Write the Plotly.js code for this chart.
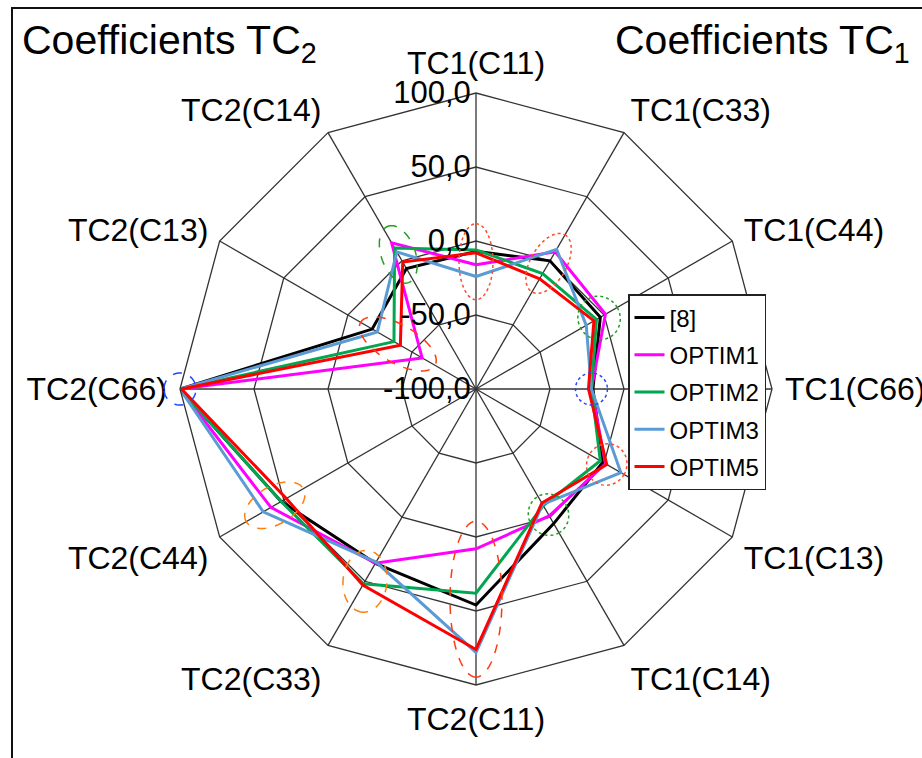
<!DOCTYPE html>
<html>
<head>
<meta charset="utf-8">
<script src="https://cdn.plot.ly/plotly-3.0.1.min.js"></script>
<style>html,body{margin:0;padding:0;background:#fff;}#chart{width:922px;height:758px;}</style>
</head>
<body>
<div id="chart"></div>
<script>
// ---- data ----
const categories = ['TC1(C11)','TC1(C33)','TC1(C44)','TC1(C66)','TC1(C13)','TC1(C14)',
                    'TC2(C11)','TC2(C33)','TC2(C44)','TC2(C66)','TC2(C13)','TC2(C14)'];
const ref8   = [-7,   0,  -3, -21,  -1,   5, 46, 36, 52, 100, -19, -6];
const optim1 = [-16,  7,   1, -22,   1,  -1,  8, 36, 60, 100, -58, 14];
const optim2 = [-6, -10,  -6, -22,  -3,  -9, 38, 52, 52, 100, -36, 10];
const optim3 = [-24,  9, -14, -22,  13, -10, 78, 35, 66, 100, -23,  7];
const optim5 = [-8, -14,  -8, -24,   2, -11, 76, 53, 48,  99, -41, -1];
const seriesNames = ['[8]','OPTIM1','OPTIM2','OPTIM3','OPTIM5'];
const seriesValues = [ref8, optim1, optim2, optim3, optim5];
const seriesColors = ['#000000','#ff00ff','#00a650','#5b9bd5','#ff0000'];
const radialTickVals = [-100, -50, 0, 50, 100];
const radialTickText = ['-100,0','-50,0','0,0','50,0','100,0'];

// ---- layout geometry ----
const W = 922, H = 758;
const CX = 476, CY = 389, R = 296;
const dom = {x:[(CX-R)/W,(CX+R)/W], y:[1-(CY+R)/H, 1-(CY-R)/H]};
const FONT = 'Liberation Sans, Arial, sans-serif';

const close = a => a.concat([a[0]]);
const traces = seriesValues.map((v,i)=>({
  type:'scatterpolar', mode:'lines',
  r: close(v), theta: close(categories),
  name: seriesNames[i], legendgroup: 'g'+i,
  line:{color:seriesColors[i], width:3}
}));

// highlight ellipses: category, radial value, semi-axes (px, along spoke / across), colour, dash
const highlights = [
  {cat:'TC1(C11)', v:-14, a:38, b:17, color:'#ff4a2a', dash:'dot', tilt:0},
  {cat:'TC1(C33)', v:-2,  a:33, b:18, color:'#ff4a2a', dash:'dot', tilt:0},
  {cat:'TC1(C44)', v:-4,  a:21, b:22, color:'#22a022', dash:'dot', tilt:0},
  {cat:'TC1(C66)', v:-22, a:16, b:16, color:'#2244ff', dash:'dot', tilt:0},
  {cat:'TC1(C13)', v:2,   a:20, b:21, color:'#ff4a2a', dash:'dot', tilt:0},
  {cat:'TC1(C14)', v:-2,  a:21, b:20, color:'#22a022', dash:'dot', tilt:0},
  {cat:'TC2(C11)', v:42,  a:78, b:26, color:'#ff3a10', dash:'dash', tilt:0},
  {cat:'TC2(C33)', v:50,  a:31, b:22, color:'#ff7f0e', dash:'dash', tilt:-25},
  {cat:'TC2(C44)', v:57,  a:33, b:19, color:'#ff7f0e', dash:'dash', tilt:0},
  {cat:'TC2(C66)', v:100, a:16, b:16, color:'#2244ff', dash:'dash', tilt:0},
  {cat:'TC2(C13)', v:-39, a:43, b:19, color:'#ff3a10', dash:'dash', tilt:0},
  {cat:'TC2(C14)', v:5,   a:30, b:17, color:'#22a022', dash:'dash', tilt:10}
];
function ellipsePath(h){
  const k = categories.indexOf(h.cat);
  const ang = k*2*Math.PI/categories.length;           // clockwise from top
  const rp = (h.v+100)/200*R;
  const cx = CX + rp*Math.sin(ang), cy = CY - rp*Math.cos(ang);
  const ux = Math.sin(ang), uy = -Math.cos(ang);       // along spoke
  const t = h.tilt*Math.PI/180;
  const ax = ux*Math.cos(t) - uy*Math.sin(t), ay = ux*Math.sin(t) + uy*Math.cos(t);
  const bx = -ay, by = ax;
  let d = '';
  for(let i=0;i<=60;i++){
    const s = i/60*2*Math.PI;
    const px = cx + h.a*Math.cos(s)*ax + h.b*Math.sin(s)*bx;
    const py = cy + h.a*Math.cos(s)*ay + h.b*Math.sin(s)*by;
    d += (i===0?'M ':' L ') + (px/W).toFixed(5) + ',' + (1-py/H).toFixed(5);
  }
  return d + ' Z';
}
const shapes = highlights.map(h=>({type:'path', xref:'paper', yref:'paper', path:ellipsePath(h),
  line:{color:h.color, width:1.5, dash:h.dash}, fillcolor:'rgba(0,0,0,0)', layer:'above'}));
shapes.push({type:'rect', xref:'paper', yref:'paper', x0:12/W, x1:1.05, y0:-0.05, y1:1-8/H,
  line:{color:'#111', width:2}, fillcolor:'rgba(0,0,0,0)'});

const layout = {
  width:W, height:H, margin:{l:0,r:0,t:0,b:0},
  paper_bgcolor:'#fff', plot_bgcolor:'#fff',
  font:{family:FONT, color:'#000'},
  polar:{
    domain:dom, bgcolor:'#fff', gridshape:'linear',
    angularaxis:{direction:'clockwise', rotation:90, type:'category',
      tickfont:{family:FONT, size:32, color:'#000'},
      showline:true, linecolor:'#333', linewidth:1.3,
      gridcolor:'#333', gridwidth:1.3, ticks:'outside', ticklen:6, tickcolor:'rgba(0,0,0,0)',
      categoryarray:categories, categoryorder:'array'},
    radialaxis:{range:[-100,100], angle:90, tickangle:90, side:'counterclockwise',
      tickvals:radialTickVals, ticktext:radialTickText, ticks:'', showline:false,
      tickfont:{family:FONT, size:31, color:'#000'},
      gridcolor:'#333', gridwidth:1.3}
  },
  showlegend:true,
  legend:{x:628/W, y:1-294/H, xanchor:'left', yanchor:'top', bgcolor:'#fff',
    bordercolor:'#222', borderwidth:1.5, font:{family:FONT, size:24, color:'#000'},
    tracegroupgap:3, traceorder:'grouped'},
  shapes:shapes,
  annotations:[
    {xref:'paper', yref:'paper', x:20/W, y:1-15/H, xanchor:'left', yanchor:'top', showarrow:false,
     text:'Coefficients TC<sub>2</sub>', font:{family:FONT, size:41, color:'#000'}},
    {xref:'paper', yref:'paper', x:613/W, y:1-15/H, xanchor:'left', yanchor:'top', showarrow:false,
     text:'Coefficients TC<sub>1</sub>', font:{family:FONT, size:41, color:'#000'}}
  ]
};
Plotly.newPlot('chart', traces, layout, {displayModeBar:false, staticPlot:true});
</script>
</body>
</html>
